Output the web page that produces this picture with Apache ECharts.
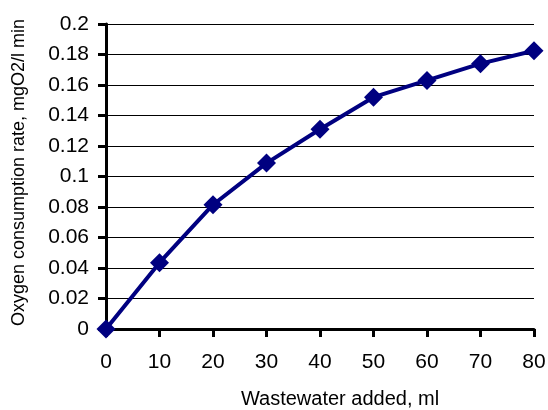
<!DOCTYPE html>
<html><head><meta charset="utf-8">
<script src="https://cdn.jsdelivr.net/npm/echarts@6/dist/echarts.min.js"></script>
<style>html,body{margin:0;padding:0;background:#fff}#c{width:548px;height:410px}</style>
</head><body><div id="c"></div>
<script>
const xValues = [0, 10, 20, 30, 40, 50, 60, 70, 80];
const yValues = [0, 0.0435, 0.0815, 0.1088, 0.131, 0.152, 0.163, 0.174, 0.1825];
const xName = 'Wastewater added, ml';
const yName = 'Oxygen consumption rate, mgO2/l min';
const chart = echarts.init(document.getElementById('c'));
chart.setOption({
  animation: false,
  backgroundColor: '#fff',
  grid: {left: 106, right: 14, top: 24, bottom: 81, containLabel: false, outerBoundsMode: 'none'},
  xAxis: {
    type: 'value', min: 0, max: 80, interval: 10,
    name: xName, nameLocation: 'middle', nameGap: 60,
    nameTextStyle: {fontFamily: 'Liberation Sans', fontSize: 20, color: '#000', padding: [0, 0, 0, 40]},
    axisLine: {show: true, lineStyle: {color: '#000', width: 3}},
    axisTick: {show: true, length: 8, lineStyle: {color: '#000', width: 3}},
    axisLabel: {fontFamily: 'Liberation Sans', fontSize: 21, color: '#000', margin: 23},
    splitLine: {show: false}
  },
  yAxis: {
    type: 'value', min: 0, max: 0.2, interval: 0.02,
    name: yName, nameLocation: 'middle', nameGap: 78,
    nameTextStyle: {fontFamily: 'Liberation Sans', fontSize: 18, color: '#000', padding: [0, 0, 0, 8]},
    axisLine: {show: true, lineStyle: {color: '#000', width: 3}},
    axisTick: {show: true, length: 8, lineStyle: {color: '#000', width: 3}},
    axisLabel: {fontFamily: 'Liberation Sans', fontSize: 21, color: '#000', margin: 17,
      formatter: v => String(parseFloat(v.toFixed(2)))},
    splitLine: {show: true, lineStyle: {color: '#000', width: 1}}
  },
  series: [{
    type: 'line',
    data: xValues.map((x, i) => [x, yValues[i]]),
    lineStyle: {color: '#000080', width: 4},
    itemStyle: {color: '#000080'},
    symbol: 'diamond', symbolSize: 19,
    z: 5, clip: false
  }]
});
</script></body></html>
